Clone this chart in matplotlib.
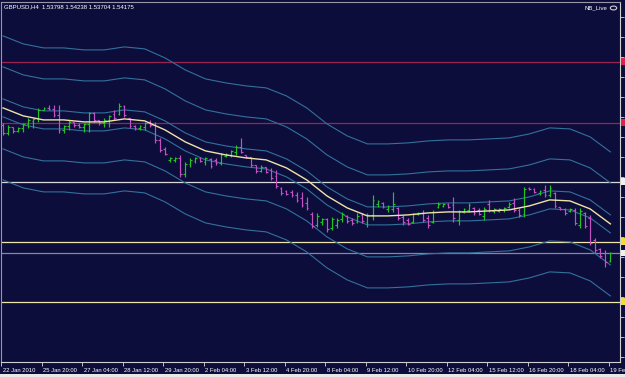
import numpy as np
import matplotlib
matplotlib.use("Agg")
import matplotlib.pyplot as plt
from matplotlib.patches import Rectangle, Circle
from matplotlib.transforms import ScaledTranslation, blended_transform_factory

# ---------------- data ----------------
symbol_title = "GBPUSD,H4  1.53798 1.54238 1.53704 1.54175"
account_text = "NB_Live"

opens = [1.6058, 1.6018, 1.6048, 1.6028, 1.6043, 1.6063, 1.6078, 1.6088, 1.6133, 1.6143,
         1.6138, 1.6108, 1.6033, 1.6053, 1.6073, 1.6058, 1.6048, 1.6063, 1.6118, 1.6083,
         1.6068, 1.6083, 1.6113, 1.6113, 1.6153, 1.6093, 1.6053, 1.6043, 1.6048, 1.6073,
         1.6058, 1.5983, 1.5938, 1.5883, 1.5883, 1.5893, 1.5813, 1.5863, 1.5878, 1.5893,
         1.5873, 1.5888, 1.5883, 1.5868, 1.5903, 1.5908, 1.5923, 1.5948, 1.5908, 1.5898,
         1.5858, 1.5828, 1.5848, 1.5833, 1.5803, 1.5743, 1.5728, 1.5723, 1.5708, 1.5693,
         1.5668, 1.5613, 1.5558, 1.5573, 1.5588, 1.5543, 1.5558, 1.5588, 1.5603, 1.5583,
         1.5573, 1.5608, 1.5573, 1.5608, 1.5663, 1.5668, 1.5638, 1.5638, 1.5643, 1.5598,
         1.5583, 1.5573, 1.5613, 1.5618, 1.5593, 1.5573, 1.5648, 1.5653, 1.5663, 1.5658,
         1.5583, 1.5623, 1.5633, 1.5643, 1.5633, 1.5603, 1.5663, 1.5628, 1.5628, 1.5633,
         1.5648, 1.5668, 1.5633, 1.5613, 1.5743, 1.5738, 1.5718, 1.5733, 1.5708, 1.5718,
         1.5648, 1.5638, 1.5628, 1.5633, 1.5558, 1.5618, 1.5593, 1.5483, 1.5438, 1.5418,
         1.53798]
highs = [1.6068, 1.6058, 1.6048, 1.6048, 1.6068, 1.6093, 1.6093, 1.6143, 1.6148, 1.6158,
         1.6158, 1.6158, 1.6058, 1.6083, 1.6073, 1.6068, 1.6068, 1.6123, 1.6123, 1.6083,
         1.6093, 1.6108, 1.6133, 1.6168, 1.6158, 1.6093, 1.6058, 1.6058, 1.6073, 1.6083,
         1.6073, 1.5993, 1.5948, 1.5898, 1.5898, 1.5908, 1.5873, 1.5893, 1.5898, 1.5898,
         1.5898, 1.5893, 1.5893, 1.5918, 1.5918, 1.5933, 1.5958, 1.5993, 1.5908, 1.5898,
         1.5858, 1.5858, 1.5848, 1.5843, 1.5833, 1.5748, 1.5733, 1.5733, 1.5723, 1.5723,
         1.5698, 1.5623, 1.5618, 1.5593, 1.5593, 1.5598, 1.5593, 1.5623, 1.5608, 1.5593,
         1.5618, 1.5618, 1.5618, 1.5708, 1.5683, 1.5673, 1.5658, 1.5723, 1.5648, 1.5608,
         1.5593, 1.5618, 1.5623, 1.5633, 1.5608, 1.5633, 1.5673, 1.5668, 1.5668, 1.5698,
         1.5633, 1.5643, 1.5668, 1.5648, 1.5643, 1.5648, 1.5683, 1.5643, 1.5643, 1.5648,
         1.5673, 1.5693, 1.5643, 1.5748, 1.5748, 1.5743, 1.5733, 1.5758, 1.5758, 1.5723,
         1.5648, 1.5643, 1.5643, 1.5643, 1.5643, 1.5623, 1.5608, 1.5493, 1.5443, 1.5433,
         1.54238]
lows = [1.6008, 1.6008, 1.6018, 1.6023, 1.6023, 1.6043, 1.6043, 1.6073, 1.6133, 1.6133,
        1.6098, 1.6018, 1.6018, 1.6033, 1.6048, 1.6043, 1.6023, 1.6023, 1.6073, 1.6058,
        1.6048, 1.6048, 1.6083, 1.6108, 1.6098, 1.6043, 1.6033, 1.6033, 1.6033, 1.6048,
        1.5968, 1.5923, 1.5908, 1.5873, 1.5873, 1.5798, 1.5798, 1.5848, 1.5868, 1.5873,
        1.5858, 1.5843, 1.5858, 1.5858, 1.5898, 1.5898, 1.5908, 1.5918, 1.5893, 1.5848,
        1.5818, 1.5823, 1.5818, 1.5783, 1.5743, 1.5708, 1.5708, 1.5698, 1.5673, 1.5648,
        1.5633, 1.5543, 1.5548, 1.5558, 1.5523, 1.5533, 1.5543, 1.5573, 1.5568, 1.5558,
        1.5568, 1.5568, 1.5548, 1.5583, 1.5648, 1.5643, 1.5623, 1.5623, 1.5583, 1.5558,
        1.5558, 1.5568, 1.5608, 1.5573, 1.5543, 1.5568, 1.5643, 1.5648, 1.5643, 1.5573,
        1.5558, 1.5618, 1.5623, 1.5608, 1.5608, 1.5583, 1.5623, 1.5618, 1.5623, 1.5623,
        1.5643, 1.5623, 1.5598, 1.5598, 1.5733, 1.5718, 1.5708, 1.5698, 1.5698, 1.5643,
        1.5633, 1.5608, 1.5623, 1.5558, 1.5543, 1.5543, 1.5458, 1.5418, 1.5393, 1.5348,
        1.53704]
closes = [1.6018, 1.6048, 1.6028, 1.6043, 1.6063, 1.6083, 1.6088, 1.6133, 1.6143, 1.6138,
          1.6108, 1.6033, 1.6053, 1.6073, 1.6058, 1.6048, 1.6063, 1.6118, 1.6083, 1.6068,
          1.6083, 1.6103, 1.6093, 1.6153, 1.6108, 1.6053, 1.6043, 1.6053, 1.6068, 1.6058,
          1.5983, 1.5933, 1.5913, 1.5893, 1.5893, 1.5813, 1.5863, 1.5883, 1.5893, 1.5878,
          1.5893, 1.5853, 1.5868, 1.5908, 1.5913, 1.5928, 1.5948, 1.5923, 1.5898, 1.5858,
          1.5828, 1.5848, 1.5823, 1.5793, 1.5753, 1.5718, 1.5713, 1.5708, 1.5683, 1.5658,
          1.5643, 1.5553, 1.5603, 1.5588, 1.5538, 1.5588, 1.5583, 1.5613, 1.5578, 1.5568,
          1.5603, 1.5578, 1.5608, 1.5683, 1.5678, 1.5648, 1.5653, 1.5663, 1.5593, 1.5573,
          1.5563, 1.5613, 1.5618, 1.5583, 1.5558, 1.5623, 1.5663, 1.5663, 1.5648, 1.5593,
          1.5623, 1.5638, 1.5658, 1.5618, 1.5613, 1.5638, 1.5633, 1.5638, 1.5638, 1.5643,
          1.5663, 1.5633, 1.5608, 1.5738, 1.5738, 1.5723, 1.5728, 1.5708, 1.5743, 1.5653,
          1.5638, 1.5618, 1.5638, 1.5568, 1.5628, 1.5553, 1.5468, 1.5433, 1.5403, 1.5373,
          1.54175]

# smoothed moving average (every 4th bar)
ma_bars = list(range(0, 121, 4))
ma_values = [1.6143, 1.6103, 1.6083, 1.6083, 1.6073, 1.6073, 1.6088, 1.6078, 1.6033, 1.5973,
             1.5928, 1.5908, 1.5893, 1.5883, 1.5843, 1.5783, 1.5703, 1.5643, 1.5603, 1.5603,
             1.5608, 1.5618, 1.5623, 1.5623, 1.5628, 1.5633, 1.5653, 1.5683, 1.5678, 1.5638,
             1.5563]
band_offsets = [0.0045, 0.0205, 0.0360]

# horizontal levels
level_red = [1.6375, 1.6070]
level_white = [1.5775]
level_yellow = [1.5475, 1.5175]
bid_price = 1.54175

tick_bars = list(range(0, 121, 8))
tick_labels = ["22 Jan 2010", "25 Jan 20:00", "27 Jan 04:00", "28 Jan 12:00",
               "29 Jan 20:00", "2 Feb 04:00", "3 Feb 12:00", "4 Feb 20:00",
               "8 Feb 04:00", "9 Feb 12:00", "10 Feb 20:00", "12 Feb 04:00",
               "15 Feb 12:00", "16 Feb 20:00", "18 Feb 04:00", "19 Feb 12:00"]
price_ticks = [1.49 + 0.01 * k for k in range(18)]

# ---------------- styling ----------------
BG = "#0d0d3b"
UP = "#22c422"
DN = "#c451c4"
BAND = "#31719b"
MA_C = "#ece4a6"
FONT = ["Liberation Sans", "DejaVu Sans"]

W, H = 625, 377
fig = plt.figure(figsize=(W / 100, H / 100), dpi=100, facecolor=BG)
ax = fig.add_axes([1 / W, 1 - 362 / H, 619 / W, 360 / H], facecolor=BG)

n = len(opens)
x = np.arange(n)

# horizontal levels
for y in level_red:
    ax.axhline(y, color="#9c2250", lw=0.9, zorder=1)
for y in level_white:
    ax.axhline(y, color="#d8d8d8", lw=0.9, zorder=1)
for y in level_yellow:
    ax.axhline(y, color="#eee6a8", lw=0.9, zorder=1)
ax.axhline(bid_price, color="#7d8aa6", lw=0.9, zorder=1)

# bands + MA
ma = np.array(ma_values)
for off in band_offsets:
    ax.plot(ma_bars, ma + off, color=BAND, lw=0.8, zorder=2)
    ax.plot(ma_bars, ma - off, color=BAND, lw=0.8, zorder=2)
ax.plot(ma_bars, ma, color=MA_C, lw=1.0, zorder=4)

# OHLC bars
o = np.array(opens); h = np.array(highs); l = np.array(lows); c = np.array(closes)
cols = [UP if ci >= oi else DN for oi, ci in zip(o, c)]
ax.vlines(x, l, h, colors=cols, lw=0.85, zorder=3)
ax.hlines(o, x - 0.35, x, colors=cols, lw=0.85, zorder=3)
ax.hlines(c, x, x + 0.35, colors=cols, lw=0.85, zorder=3)

ax.set_xlim(-0.4, 121.9)
ax.set_ylim(1.48725, 1.66725)

# axes / ticks
for side in ["left", "top"]:
    ax.spines[side].set_color("#9898a8")
    ax.spines[side].set_linewidth(0.8)
for side in ["right", "bottom"]:
    ax.spines[side].set_color("#d0d0d0")
    ax.spines[side].set_linewidth(0.8)

ax.yaxis.tick_right()
ax.set_yticks(price_ticks)
ax.tick_params(axis="y", right=True, left=False, labelright=False, labelleft=False,
               direction="out", length=3, width=0.7, color="#c0c0c0")
ax.set_xticks([b - 0.35 for b in tick_bars])
ax.set_xticklabels(tick_labels)
ax.tick_params(axis="x", direction="out", length=3, width=0.7, color="#c0c0c0",
               labelsize=4.2, labelcolor="white", pad=1.5)
off = ScaledTranslation(1.5 / 100, 0, fig.dpi_scale_trans)
for lab in ax.get_xticklabels():
    lab.set_horizontalalignment("left")
    lab.set_fontfamily(FONT)
    lab.set_transform(lab.get_transform() + off)

# price label boxes at right edge
bt = blended_transform_factory(ax.transAxes, ax.transData)
for yv, fc in [(level_red[0], "#e0204c"), (level_red[1], "#e0204c"),
               (level_white[0], "#f0f0f0"), (level_yellow[0], "#f2dc3a"),
               (bid_price, "#f0f0f0"), (level_yellow[1], "#f2dc3a")]:
    ax.add_patch(Rectangle((1.0015, yv - 0.0017), 0.012, 0.0034, transform=bt,
                           facecolor=fc, edgecolor="none", clip_on=False, zorder=6))

# texts
fig.text(4 / W, 1 - 7 / H, symbol_title, color="white", fontsize=4.3,
         family=FONT, ha="left", va="center")
fig.text(607 / W, 1 - 8 / H, account_text, color="white", fontsize=4.3,
         family=FONT, ha="right", va="center")
fig.patches.append(Circle((613.5 / W, 1 - 8 / H), 3.2 / W, transform=fig.transFigure,
                          facecolor="none", edgecolor="#d0d0d0", lw=0.8))

# bottom window chrome
fig.add_artist(Rectangle((0, 0), 1, 3 / H, transform=fig.transFigure,
                         facecolor="#e8e8e8", edgecolor="none"))

fig.savefig("out.png", dpi=100, facecolor=BG)
